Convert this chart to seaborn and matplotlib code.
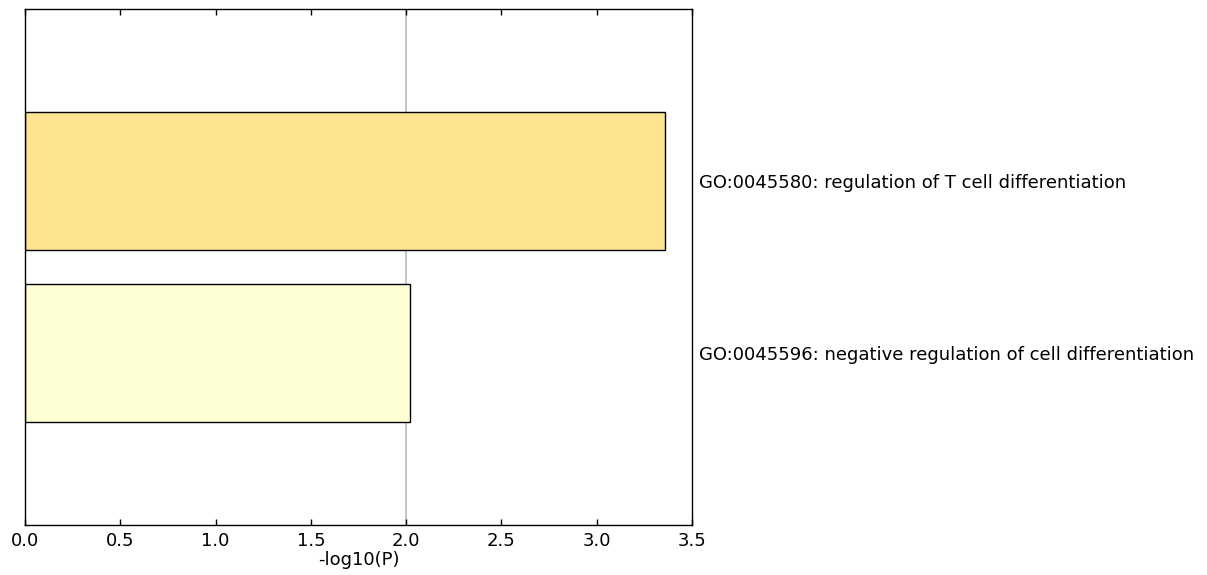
import matplotlib
matplotlib.use("Agg")
import matplotlib.pyplot as plt
import seaborn as sns
import pandas as pd

terms = ["GO:0045580: regulation of T cell differentiation",
         "GO:0045596: negative regulation of cell differentiation"]
values = [3.36, 2.02]
colors = ["#FEE391", "#FFFFD4"]
xticks = [0.0, 0.5, 1.0, 1.5, 2.0, 2.5, 3.0, 3.5]

sns.set_theme(style="white")
plt.rcParams['font.family'] = ['DejaVu Sans']
plt.rcParams['text.color'] = 'black'
plt.rcParams['axes.labelcolor'] = 'black'
plt.rcParams['xtick.color'] = 'black'
plt.rcParams['ytick.color'] = 'black'

df = pd.DataFrame({"term": terms, "value": values})

fig = plt.figure(figsize=(12.07, 5.75), dpi=100)
ax = fig.add_axes([25/1207, 1-525/575, (692-25)/1207, (525-9)/575])

ax.axvline(2.0, color="#bbbbbb", linewidth=1.2, zorder=0)
sns.barplot(data=df, x="value", y="term", hue="term", palette=colors,
            orient="h", width=0.8, edgecolor="black", linewidth=1.0,
            saturation=1, legend=False, ax=ax, zorder=2)

ax.set_xlim(0, 3.5)
ax.set_ylim(2, -1)
ax.set_xticks(xticks)
ax.set_xticklabels([f"{t:.1f}" for t in xticks], fontsize=13)
ax.set_xlabel("-log10(P)", fontsize=13, labelpad=1, color="black")
ax.set_ylabel("")
ax.yaxis.tick_right()
ax.set_yticks([0, 1])
ax.set_yticklabels(terms, fontsize=13)
ax.tick_params(axis="y", length=0, pad=5, labelcolor="black")
ax.tick_params(axis="x", direction="in", top=True, bottom=True, length=4,
               width=1, color="black", pad=5, labelcolor="black")
for s in ax.spines.values():
    s.set_visible(True)
    s.set_color("black")
    s.set_linewidth(1.0)
ax.grid(False)

fig.savefig("out.png", dpi=100, facecolor="white")
